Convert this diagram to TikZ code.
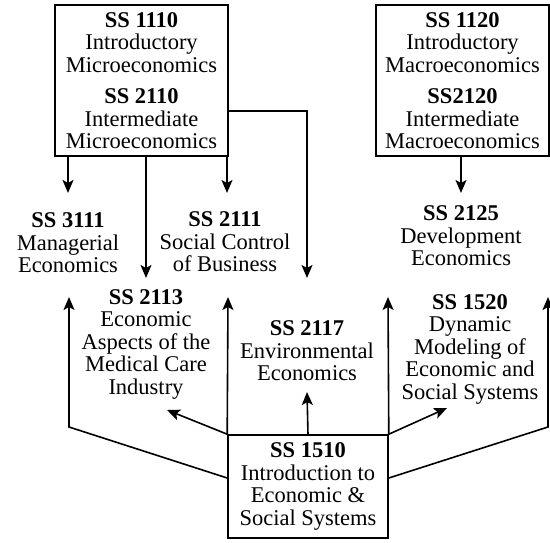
\documentclass[tikz,border=0pt]{standalone}
\usepackage{fontspec}
\setmainfont{Liberation Serif}
\usetikzlibrary{arrows.meta}
\tikzset{
  lbl/.style={align=center, inner sep=0pt, font=\fontsize{22.5}{22.5}\selectfont},
  course/.style={lbl, draw, line width=1.6pt, minimum width=#1, inner sep=0pt},
  arr/.style={line width=1.6pt, -{Stealth[length=13pt,width=11pt,inset=3pt]}}
}
\begin{document}
\begin{tikzpicture}[x=1pt,y=-1pt]
\useasboundingbox (0,0) rectangle (550,542);
% boxes
\node[course=173pt, minimum height=151pt] (micro) at (141.5,80.5)
  {\textbf{SS 1110}\\Introductory\\Microeconomics\\[9pt]\textbf{SS 2110}\\Intermediate\\Microeconomics};
\node[course=173pt, minimum height=151pt] (macro) at (462.5,80.5)
  {\textbf{SS 1120}\\Introductory\\Macroeconomics\\[9pt]\textbf{SS2120}\\Intermediate\\Macroeconomics};
\node[course=160pt, minimum height=103pt] (intro) at (308,486.5)
  {\textbf{SS 1510}\\Introduction to\\Economic \&\\Social Systems};
% labels
\node[lbl] (t3111) at (68,243) {\textbf{SS 3111}\\Managerial\\Economics};
\node[lbl] (t2111) at (225,242) {\textbf{SS 2111}\\Social Control\\of Business};
\node[lbl] (t2125) at (461,236) {\textbf{SS 2125}\\Development\\Economics};
\node[lbl] (t2113) at (146,344) {\textbf{SS 2113}\\Economic\\Aspects of the\\Medical Care\\Industry};
\node[lbl] (t2117) at (307,351) {\textbf{SS 2117}\\Environmental\\Economics};
\node[lbl] (t1520) at (470,349) {\textbf{SS 1520}\\Dynamic\\Modeling of\\Economic and\\Social Systems};
% tips
\coordinate (p1) at (68,193);
\coordinate (p2) at (146,278);
\coordinate (p3) at (227,193);
\coordinate (p4) at (307,278);
\coordinate (p5) at (461,193);
\coordinate (q1) at (69,297);
\coordinate (q2) at (167,410);
\coordinate (q3) at (228,297);
\coordinate (q4) at (307,392);
\coordinate (q5) at (388,297);
\coordinate (q6) at (447,408);
\coordinate (q7) at (548,297);
% arrows from top boxes
\draw[arr] (micro.south -| p1) -- (p1);
\draw[arr] (micro.south -| p2) -- (p2);
\draw[arr] (micro.south -| p3) -- (p3);
\draw[arr] (micro.east |- 0,111) -| (p4);
\draw[arr] (macro.south -| p5) -- (p5);
% arrows from intro
\draw[arr] (intro.west |- 0,478) -- (69,427) -- (q1);
\draw[arr] (intro.north west) -- (q2);
\draw[arr] (intro.north west) -- (q3);
\draw[arr] (intro.north) -- (q4);
\draw[arr] (intro.north east) -- (q5);
\draw[arr] (intro.north east) -- (q6);
\draw[arr] (intro.east |- 0,478) -- (548,427) -- (q7);
\end{tikzpicture}
\end{document}
